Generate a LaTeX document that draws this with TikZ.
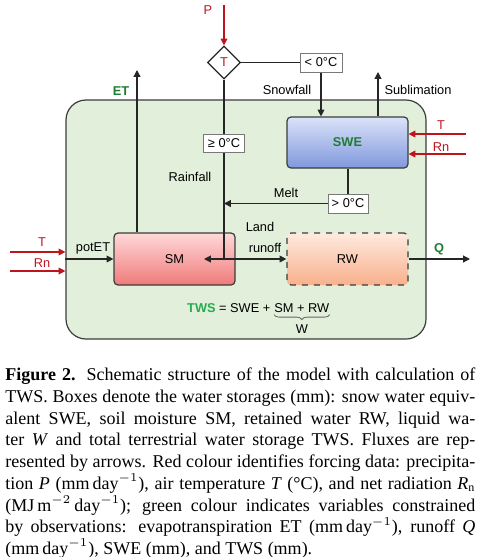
\documentclass[tikz,border=0pt]{standalone}
\usepackage{fontspec}
\setmainfont{Liberation Serif}
\setsansfont{Liberation Sans}
\usepackage{tikz}
\usetikzlibrary{arrows.meta,positioning,shapes.geometric,decorations.pathreplacing}

\definecolor{forcered}{RGB}{190,20,30}
\definecolor{obsgreen}{RGB}{30,125,50}
\definecolor{twsgreen}{RGB}{40,170,80}
\definecolor{landfill}{RGB}{226,239,218}
\definecolor{boxline}{RGB}{60,60,60}
\definecolor{tagline}{RGB}{120,120,120}

\begin{document}
\begin{tikzpicture}[x=0.5pt, y=-0.5pt,
  lbl/.style={font=\sffamily\fontsize{6.4}{7.6}\selectfont, inner sep=0pt},
  obs/.style={lbl, text=obsgreen, font=\sffamily\bfseries\fontsize{6.4}{7.6}\selectfont},
  frc/.style={lbl, text=forcered},
  store/.style={draw=boxline, line width=0.6pt, rounded corners=2pt, minimum width=60.5pt,
                minimum height=26pt, font=\sffamily\fontsize{6.4}{7.6}\selectfont},
  tag/.style={draw=tagline, line width=0.5pt, fill=white, minimum width=20.5pt, minimum height=9.5pt,
              inner sep=0pt, font=\sffamily\fontsize{6.4}{7.6}\selectfont},
  flow/.style={draw=black!85, line width=0.6pt, -{Triangle[length=3.4pt,width=3.4pt]}},
  plain/.style={draw=black!85, line width=0.6pt},
  force/.style={draw=forcered, line width=0.6pt, -{Triangle[length=3.4pt,width=3.4pt]}},
]
\useasboundingbox (0,0) rectangle (481,557);

% land surface
\node[draw=boxline, line width=0.6pt, fill=landfill, rounded corners=10pt,
      minimum width=180pt, minimum height=119.5pt] (land) at (246,219.5) {};

% storages
\node[store, top color={rgb,255:red,219;green,227;blue,249}, bottom color={rgb,255:red,128;green,152;blue,221},
      minimum height=25.5pt] (swe) at (347.5,142.5) {\textcolor{obsgreen}{\bfseries SWE}};
\node[store, top color={rgb,255:red,255;green,216;blue,216}, bottom color={rgb,255:red,240;green,122;blue,122}]
      (sm) at (174.5,259) {SM};
\node[store, dashed, top color={rgb,255:red,255;green,234;blue,222}, bottom color={rgb,255:red,248;green,176;blue,140}]
      (rw) at (347.5,259) {RW};

% temperature split
\node[draw=black!85, line width=0.6pt, diamond, aspect=1, minimum size=16.5pt, inner sep=0pt,
      fill=white, frc] (diam) at (224,62.5) {T};
\node[tag, minimum width=21pt] (lt) at (321,62.5) {< 0°C};
\node[tag, minimum height=9pt] (ge) at (224,143) {≥ 0°C};
\node[tag, minimum width=20pt] (gt) at (348,203.5) {> 0°C};

% free ends
\coordinate (pin) at (224,5);
\coordinate (junc) at (224,259);
\coordinate (smin) at (204,259);
\coordinate (etout) at (137,70);
\coordinate (sublout) at (378,72);
\coordinate (qout) at (470,259);
\coordinate (tright) at (466,134);
\coordinate (rnright) at (466,154);
\coordinate (tleft) at (10,252);
\coordinate (rnleft) at (10,271);

% precipitation and its split
\draw[force] (pin) -- (diam.north);
\draw[plain] (diam.east) -- (lt.west);
\draw[flow] (lt.south) -- (lt.south |- swe.north);
\draw[plain] (diam.south) -- (ge.north);
\draw[flow] (ge.south) -- (junc) -- (smin);
\draw[flow] (junc) -- (rw.west);

% snow fluxes
\draw[flow] (sublout |- swe.north) -- (sublout);
\draw[plain] (gt.north |- swe.south) -- (gt.north);
\draw[flow] (gt.west) -- (gt.west -| diam);

% evapotranspiration and runoff
\draw[flow] (etout |- sm.north) -- (etout);
\draw[flow] (land.west |- sm) -- (sm.west);
\draw[flow] (rw.east) -- (qout);

% forcing
\draw[force] (tright) -- (tright -| swe.east);
\draw[force] (rnright) -- (rnright -| swe.east);
\draw[force] (tleft) -- (tleft -| land.west);
\draw[force] (rnleft) -- (rnleft -| land.west);

% labels
\node[frc] (plab) at (208,10) {P};
\node[obs] (etlab) at (121,91) {ET};
\node[lbl] (snowlab) at (287,90) {Snowfall};
\node[lbl] (subllab) at (418,90) {Sublimation};
\node[frc] (trlab) at (441,125) {T};
\node[frc] (rnrlab) at (441,147) {Rn};
\node[lbl] (rainlab) at (190,177) {Rainfall};
\node[lbl] (meltlab) at (286,193) {Melt};
\node[lbl] (landlab) at (260,227) {Land};
\node[lbl] (runofflab) at (265,248) {runoff};
\node[lbl] (potlab) at (93,248) {potET};
\node[frc] (tllab) at (42,242) {T};
\node[frc] (rnllab) at (42,263) {Rn};
\node[obs] (qlab) at (439,249) {Q};

% storage sum
\node[lbl, anchor=base west] (wsum) at (274,312.5) {SM + RW};
\node[lbl, anchor=base east] (twsl) at ([xshift=-1.6pt]wsum.base west)
      {\textcolor{twsgreen}{\bfseries TWS} = SWE +};
\draw[draw=black!60, line width=0.4pt, decorate, decoration={brace, mirror, amplitude=2.5pt}]
      ([yshift=-0.8pt]wsum.south west) -- ([yshift=-0.8pt]wsum.south east);
\node[lbl, below=5.6pt of wsum] (wlab) {W};

% caption
\node[anchor=north west, inner sep=0pt, text width=235pt, align=justify,
      font=\fontsize{9}{10.875}\selectfont] (capt) at (5,367.5)
{\textbf{Figure 2.} Schematic structure of the model with calculation of\linebreak
TWS. Boxes denote the water storages (mm): snow water equiv-\linebreak
alent SWE, soil moisture SM, retained water RW, liquid wa-\linebreak
ter \textit{W} and total terrestrial water storage TWS. Fluxes are rep-\linebreak
resented by arrows. Red colour identifies forcing data: precipita-\linebreak
tion \textit{P} (mm\,day$^{-1}$), air temperature \textit{T} (°C), and net radiation \textit{R}$_\mathrm{n}$\linebreak
(MJ\,m$^{-2}$\,day$^{-1}$); green colour indicates variables constrained\linebreak
by observations: evapotranspiration ET (mm\,day$^{-1}$), runoff \textit{Q}\linebreak
(mm\,day$^{-1}$), SWE (mm), and TWS (mm).};

\end{tikzpicture}
\end{document}
